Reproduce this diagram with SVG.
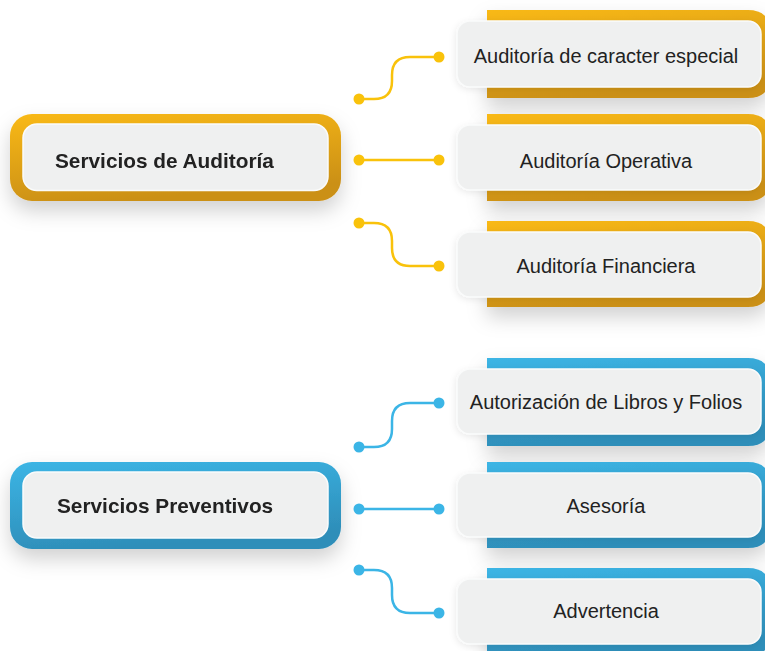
<svg xmlns="http://www.w3.org/2000/svg" width="765" height="651" viewBox="0 0 765 651">
<defs>
<linearGradient id="gO" x1="0" y1="0" x2="0.3" y2="1">
<stop offset="0" stop-color="#F9B914"/><stop offset="1" stop-color="#CB9019"/>
</linearGradient>
<linearGradient id="gB" x1="0" y1="0" x2="0.3" y2="1">
<stop offset="0" stop-color="#3CB5E5"/><stop offset="1" stop-color="#2E8EB9"/>
</linearGradient>
<filter id="sh" x="-20%" y="-40%" width="140%" height="190%">
<feDropShadow dx="0" dy="10" stdDeviation="10" flood-color="#000" flood-opacity="0.18"/>
</filter>
<filter id="sh2" x="-10%" y="-20%" width="120%" height="150%">
<feDropShadow dx="-1" dy="2" stdDeviation="3" flood-color="#000" flood-opacity="0.08"/>
</filter>
<style>
.card{fill:#EFF0F0;stroke:#FAFBFB;stroke-width:1.5}
.t{font-family:"Liberation Sans",Arial,sans-serif;font-size:20px;fill:#222;text-anchor:middle}
.tb{font-family:"Liberation Sans",Arial,sans-serif;font-size:20.8px;font-weight:bold;fill:#222}
.co{fill:none;stroke:#F9C20B;stroke-width:2.5}
.cb{fill:none;stroke:#3BB5E6;stroke-width:2.5}
.dO{fill:#F9C20B}.dB{fill:#3BB5E6}
</style>
</defs>

<g id="main-auditoria" filter="url(#sh)">
<rect x="10" y="114" width="331" height="87" rx="22" fill="url(#gO)"/>
<rect x="23" y="124" width="305" height="66.5" rx="14" class="card"/>
<text x="55" y="168" class="tb">Servicios de Auditoría</text>
</g>

<g id="main-preventivos" filter="url(#sh)">
<rect x="10" y="462" width="331" height="87" rx="22" fill="url(#gB)"/>
<rect x="23" y="472" width="305" height="66" rx="14" class="card"/>
<text x="57" y="513" class="tb">Servicios Preventivos</text>
</g>

<g id="connectors">
<path class="co" d="M359,99 H374 Q392,99 392,81 V75 Q392,57 410,57 H439"/>
<path class="co" d="M359,160 H439"/>
<path class="co" d="M359,223 H374 Q392,223 392,241 V248 Q392,266 410,266 H439"/>
<path class="cb" d="M359,447 H374 Q392,447 392,429 V421 Q392,403 410,403 H439"/>
<path class="cb" d="M359,509 H439"/>
<path class="cb" d="M359,570 H374 Q392,570 392,588 V595 Q392,613 410,613 H439"/>
<circle class="dO" cx="359" cy="99" r="5.5"/><circle class="dO" cx="439" cy="57" r="5.5"/>
<circle class="dO" cx="359" cy="160" r="5.5"/><circle class="dO" cx="439" cy="160" r="5.5"/>
<circle class="dO" cx="359" cy="223" r="5.5"/><circle class="dO" cx="439" cy="266" r="5.5"/>
<circle class="dB" cx="359" cy="447" r="5.5"/><circle class="dB" cx="439" cy="403" r="5.5"/>
<circle class="dB" cx="359" cy="509" r="5.5"/><circle class="dB" cx="439" cy="509" r="5.5"/>
<circle class="dB" cx="359" cy="570" r="5.5"/><circle class="dB" cx="439" cy="613" r="5.5"/>
</g>

<g id="n-especial">
<path d="M487,10 H748 Q770,10 770,32 V76 Q770,98 748,98 H487 Z" fill="url(#gO)" filter="url(#sh)"/>
<rect x="457" y="21" width="304" height="66" rx="13" class="card" filter="url(#sh2)"/>
<text x="606" y="63" class="t">Auditoría de caracter especial</text>
</g>

<g id="n-operativa">
<path d="M487,114 H748 Q770,114 770,136 V179 Q770,201 748,201 H487 Z" fill="url(#gO)" filter="url(#sh)"/>
<rect x="457" y="125" width="304" height="65" rx="13" class="card" filter="url(#sh2)"/>
<text x="606" y="168" class="t">Auditoría Operativa</text>
</g>

<g id="n-financiera">
<path d="M487,221 H748 Q770,221 770,243 V285 Q770,307 748,307 H487 Z" fill="url(#gO)" filter="url(#sh)"/>
<rect x="457" y="232" width="304" height="65" rx="13" class="card" filter="url(#sh2)"/>
<text x="606" y="273" class="t">Auditoría Financiera</text>
</g>

<g id="n-autorizacion">
<path d="M487,358 H748 Q770,358 770,380 V424 Q770,446 748,446 H487 Z" fill="url(#gB)" filter="url(#sh)"/>
<rect x="457" y="369" width="304" height="65" rx="13" class="card" filter="url(#sh2)"/>
<text x="606" y="409" class="t">Autorización de Libros y Folios</text>
</g>

<g id="n-asesoria">
<path d="M487,462 H748 Q770,462 770,484 V526 Q770,548 748,548 H487 Z" fill="url(#gB)" filter="url(#sh)"/>
<rect x="457" y="473" width="304" height="64" rx="13" class="card" filter="url(#sh2)"/>
<text x="606" y="513" class="t">Asesoría</text>
</g>

<g id="n-advertencia">
<path d="M487,568 H748 Q770,568 770,590 V634 Q770,656 748,656 H487 Z" fill="url(#gB)" filter="url(#sh)"/>
<rect x="457" y="579" width="304" height="65" rx="13" class="card" filter="url(#sh2)"/>
<text x="606" y="618" class="t">Advertencia</text>
</g>
</svg>
